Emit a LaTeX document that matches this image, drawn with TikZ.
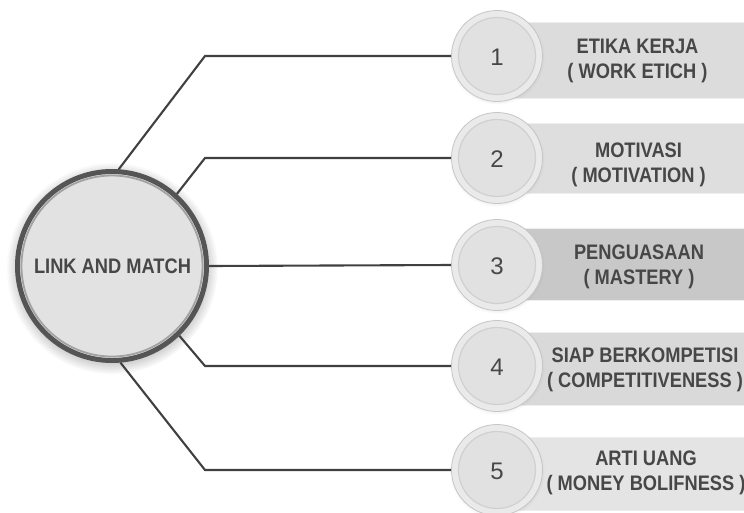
\documentclass[tikz,border=0pt]{standalone}
\usepackage{fontspec}
\setmainfont{Liberation Sans}[FakeStretch=0.87]
\newfontfamily\numfont{Liberation Sans}
\usetikzlibrary{shadows}
\definecolor{linegray}{HTML}{404040}
\definecolor{hubring}{HTML}{555555}
\definecolor{hubinner}{HTML}{A2A2A2}
\definecolor{hubfill}{HTML}{E2E2E2}
\definecolor{txtgray}{HTML}{474747}
\definecolor{ringfill}{HTML}{EAEAEA}
\definecolor{ringedge}{HTML}{C6C6C6}
\definecolor{discfill}{HTML}{E1E1E1}
\definecolor{discedge}{HTML}{D0D0D0}
\definecolor{bannerA}{HTML}{DCDCDC}
\definecolor{bannerB}{HTML}{DEDEDE}
\definecolor{bannerC}{HTML}{C8C8C8}
\definecolor{bannerD}{HTML}{D9D9D9}
\definecolor{bannerE}{HTML}{E4E4E4}
\definecolor{banneredge}{HTML}{EEEEEE}
\begin{document}
\begin{tikzpicture}[x=1pt,y=-1pt,
  conn/.style={draw=linegray, line width=2.1pt},
  hubstyle/.style={circle, inner sep=0pt, minimum size=189pt, fill=hubfill, draw=hubring, line width=5pt,
    circular drop shadow={shadow xshift=0pt, shadow yshift=-2pt, shadow scale=1.12, opacity=0.5}},
  numcirc/.style={circle, inner sep=0pt, minimum size=91pt, fill=ringfill, draw=ringedge, line width=0.8pt,
    circular drop shadow={shadow xshift=0pt, shadow yshift=-1pt, shadow scale=1.05, opacity=0.2}},
  disc/.style={fill=discfill, draw=discedge, line width=1.2pt},
  banner/.style={rectangle, inner sep=0pt, minimum width=250pt, fill=#1, draw=banneredge, line width=1pt},
  numtxt/.style={font=\numfont\fontsize{24}{28}\selectfont, text=txtgray},
  lbl/.style={font=\bfseries\fontsize{21}{25}\selectfont, text=txtgray, align=center, inner sep=0pt},
]
\useasboundingbox (0,0) rectangle (744,512);

% banners
\node[banner=bannerA, minimum height=76pt] (r1) at (622,60) {};
\node[banner=bannerB, minimum height=70pt] (r2) at (622,158) {};
\node[banner=bannerC, minimum height=72pt] (r3) at (622,264) {};
\node[banner=bannerD, minimum height=73pt] (r4) at (622,368.5) {};
\node[banner=bannerE, minimum height=73pt] (r5) at (622,473.5) {};

% hub
\node[hubstyle] (hub) at (112,266) {};
\draw[hubinner, line width=1.8pt] (hub.center) circle (90.5);
\node[font=\bfseries\fontsize{21}{25}\selectfont, text=txtgray] (hubtxt) at (112.5,266) {LINK AND MATCH};

% number circles
\foreach \i/\y in {1/56, 2/158, 3/265, 4/366, 5/470}{
  \node[numcirc] (n\i) at (497,\y) {};
  \draw[disc] (n\i.center) circle (38.5);
  \node[numtxt] (d\i) at (497,\y+1) {\i};
}

% connectors
\coordinate (k1) at (205,56);
\coordinate (k2) at (205,158);
\coordinate (k4) at (205,366);
\coordinate (k5) at (205,470);
\draw[conn] (hub.86) -- (k1) -- (n1);
\draw[conn] (hub.48) -- (k2) -- (n2);
\draw[conn] (hub.0) -- (n3.west);
\draw[conn] (hub.-46) -- (k4) -- (n4);
\draw[conn] (hub.-85) -- (k5) -- (n5);

% labels
\node[lbl] (t1) at (637.5,61) {ETIKA KERJA\\( WORK ETICH )};
\node[lbl] (t2) at (638.5,165) {MOTIVASI\\( MOTIVATION )};
\node[lbl] (t3) at (639,267) {PENGUASAAN\\( MASTERY )};
\node[lbl] (t4) at (645,370) {SIAP BERKOMPETISI\\( COMPETITIVENESS )};
\node[lbl] (t5) at (646,473) {ARTI UANG\\( MONEY BOLIFNESS )};
\end{tikzpicture}
\end{document}
